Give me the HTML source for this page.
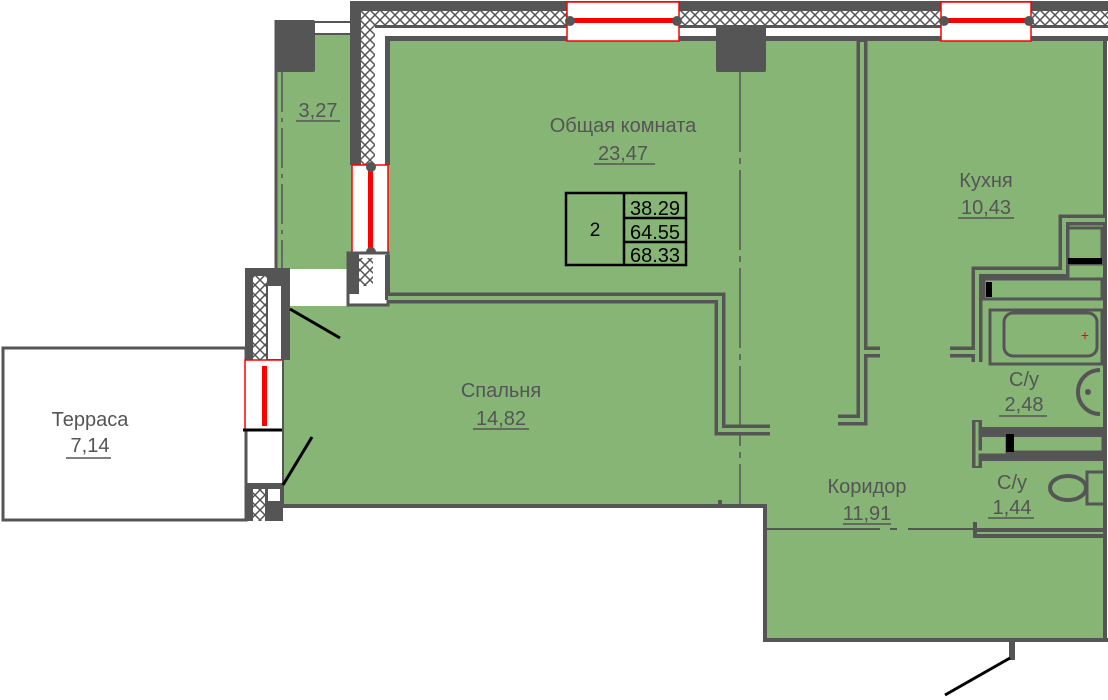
<!DOCTYPE html>
<html><head><meta charset="utf-8"><style>
html,body{margin:0;padding:0;background:#fff;width:1108px;height:700px;overflow:hidden}
svg{display:block}
text{font-family:"Liberation Sans","DejaVu Sans",sans-serif;fill:#555;font-size:20px;text-anchor:middle}
</style></head><body>
<svg width="1108" height="700" viewBox="0 0 1108 700">
<defs>
<pattern id="h" width="10" height="10" patternUnits="userSpaceOnUse">
<rect width="10" height="10" fill="#fff"/>
<path d="M0 0L10 10M10 0L0 10" stroke="#555" stroke-width="1.5"/>
</pattern>
</defs>
<rect x="277" y="33" width="77" height="236" fill="#86b576"/>
<polygon points="388,40 1105,40 1105,640 765,640 765,507 283,507 283,306 388,306" fill="#86b576"/>
<rect x="3" y="348" width="243" height="172" fill="#fff" stroke="#555" stroke-width="3"/>
<line x1="276" y1="20" x2="276" y2="268" stroke="#555" stroke-width="3"/>
<line x1="282" y1="72" x2="282" y2="268" stroke="#555" stroke-width="1.5" stroke-dasharray="40 6 4 6"/>
<rect x="276" y="22" width="80" height="12" fill="#fff" stroke="#555" stroke-width="2"/>
<rect x="275" y="20" width="40" height="52" fill="#555" rx="2"/>
<!-- top wall -->
<rect x="350" y="2" width="758" height="38" fill="#fff"/>
<rect x="375" y="11" width="733" height="15" fill="url(#h)"/>
<rect x="350" y="1" width="758" height="10" fill="#555"/>
<rect x="350" y="25" width="758" height="3" fill="#555"/>
<rect x="388" y="36" width="720" height="5" fill="#555"/>
<rect x="567" y="2" width="112" height="39" fill="#fff" stroke="#f00" stroke-width="1.5"/>
<rect x="567" y="18" width="112" height="5" fill="#f00"/>
<circle cx="570" cy="21" r="5" fill="#555"/><circle cx="677" cy="21" r="5" fill="#555"/>
<rect x="941" y="2" width="90" height="39" fill="#fff" stroke="#f00" stroke-width="1.5"/>
<rect x="941" y="18" width="90" height="5" fill="#f00"/>
<circle cx="944" cy="21" r="5" fill="#555"/><circle cx="1029" cy="21" r="5" fill="#555"/>
<rect x="716" y="25" width="50" height="47" fill="#555" rx="2"/>
<line x1="740" y1="72" x2="740" y2="505" stroke="#555" stroke-width="1.5" stroke-dasharray="80 6 6 6"/>
<!-- left wall of living -->
<rect x="361" y="11" width="14" height="154" fill="url(#h)"/>
<rect x="350" y="1" width="11" height="164" fill="#555"/>
<rect x="375" y="25" width="3" height="140" fill="#555"/>
<rect x="385" y="36" width="5" height="129" fill="#555"/>
<rect x="375" y="28" width="10" height="137" fill="#fff"/>
<rect x="352" y="165" width="36" height="90" fill="#fff" stroke="#f00" stroke-width="1.5"/>
<rect x="368" y="170" width="5" height="80" fill="#f00"/>
<circle cx="371" cy="167" r="5" fill="#555"/><circle cx="371" cy="252" r="5" fill="#555"/>
<rect x="348" y="253" width="40" height="52" fill="#fff" stroke="#555" stroke-width="3"/>
<rect x="349" y="254" width="10" height="40" fill="#555"/>
<rect x="359" y="258" width="14" height="28" fill="url(#h)"/>
<rect x="385" y="255" width="5" height="45" fill="#555"/>
<!-- bedroom top wall -->
<path d="M388 298H720V430H770" fill="none" stroke="#555" stroke-width="11"/>
<path d="M388 298H720V430H770" fill="none" stroke="#86b576" stroke-width="4"/>
<!-- left bedroom wall -->
<rect x="245" y="268" width="45" height="92" fill="#555"/>
<rect x="253" y="276" width="14" height="84" fill="url(#h)"/>
<rect x="267" y="285" width="15" height="75" fill="#fff" stroke="#555" stroke-width="2"/>
<rect x="245" y="360" width="38" height="70" fill="#fff" stroke="#f00" stroke-width="1.5"/>
<rect x="262" y="366" width="5" height="60" fill="#f00"/>
<line x1="243" y1="430" x2="284" y2="430" stroke="#000" stroke-width="3"/>
<rect x="245" y="483" width="38" height="38" fill="#555"/>
<rect x="253" y="489" width="12" height="32" fill="url(#h)"/>
<rect x="268" y="489" width="12" height="12" fill="#fff"/>
<line x1="283" y1="305" x2="283" y2="505" stroke="#555" stroke-width="2"/>
<line x1="290" y1="309" x2="340" y2="338" stroke="#000" stroke-width="3"/>
<line x1="283" y1="485" x2="312" y2="437" stroke="#000" stroke-width="3"/>
<path d="M275 506H720V500M720 506H765V640H1108" fill="none" stroke="#555" stroke-width="4"/>
<path d="M1012 640V660" stroke="#555" stroke-width="6"/>
<line x1="1010" y1="658" x2="945" y2="695" stroke="#000" stroke-width="3"/>
<line x1="1105" y1="40" x2="1105" y2="640" stroke="#555" stroke-width="4"/>
<!-- kitchen wall -->
<path d="M862 40V420H838M862 352H880" fill="none" stroke="#555" stroke-width="11"/>
<path d="M862 42V420H838M862 352H880" fill="none" stroke="#86b576" stroke-width="4"/>
<!-- bathroom -->
<path d="M1105 220H1064V272H977V362M977 352H950" fill="none" stroke="#555" stroke-width="11"/>
<path d="M1105 220H1064V272H977V362M977 352H950" fill="none" stroke="#86b576" stroke-width="4"/>
<rect x="1068" y="228" width="34" height="36" fill="none" stroke="#555" stroke-width="3"/>
<rect x="1068" y="258" width="34" height="6" fill="#000"/>
<rect x="984" y="279" width="118" height="20" fill="none" stroke="#555" stroke-width="3"/>
<rect x="986" y="282" width="6" height="15" fill="#000"/>
<rect x="990" y="310" width="112" height="54" fill="none" stroke="#555" stroke-width="3"/>
<rect x="1004" y="313" width="93" height="43" rx="9" fill="none" stroke="#555" stroke-width="3"/>
<text x="1085" y="340" style="fill:#f00;font-size:14px">+</text>
<path d="M1100 370A22 22 0 0 0 1100 414" fill="none" stroke="#555" stroke-width="4"/>
<circle cx="1088" cy="392" r="3" fill="#555"/>
<path d="M977 420V468M977 432H1105M977 456H1105" fill="none" stroke="#555" stroke-width="10"/>
<path d="M977 422V466M977 436V452H1103" fill="none" stroke="#86b576" stroke-width="3"/>
<rect x="1007" y="434" width="96" height="18" fill="none" stroke="#555" stroke-width="3"/>
<rect x="1006" y="434" width="8" height="18" fill="#000"/>
<ellipse cx="1068" cy="488" rx="18" ry="12" fill="none" stroke="#555" stroke-width="4"/>
<rect x="1087" y="472" width="18" height="32" fill="none" stroke="#555" stroke-width="3"/>
<path d="M975 522V536H1105M975 530H1105" fill="none" stroke="#555" stroke-width="4"/>
<path d="M765 529H880M890 529H897M908 529H975" stroke="#555" stroke-width="2"/>
<!-- labels -->
<text x="318" y="117">3,27</text><line x1="296" y1="121" x2="340" y2="121" stroke="#555" stroke-width="1.5"/>
<text x="623" y="132">Общая комната</text>
<text x="623" y="160">23,47</text><line x1="594" y1="164" x2="655" y2="164" stroke="#555" stroke-width="1.5"/>
<text x="986" y="187">Кухня</text>
<text x="986" y="214">10,43</text><line x1="958" y1="218" x2="1014" y2="218" stroke="#555" stroke-width="1.5"/>
<text x="501" y="397">Спальня</text>
<text x="501" y="425">14,82</text><line x1="473" y1="429" x2="529" y2="429" stroke="#555" stroke-width="1.5"/>
<text x="867" y="493">Коридор</text>
<text x="867" y="520">11,91</text><line x1="843" y1="524" x2="891" y2="524" stroke="#555" stroke-width="1.5"/>
<text x="1024" y="386">С/у</text>
<text x="1024" y="411">2,48</text><line x1="999" y1="416" x2="1047" y2="416" stroke="#555" stroke-width="1.5"/>
<text x="1012" y="489">С/у</text>
<text x="1012" y="514">1,44</text><line x1="988" y1="518" x2="1034" y2="518" stroke="#555" stroke-width="1.5"/>
<text x="90" y="426">Терраса</text>
<text x="90" y="452">7,14</text><line x1="66" y1="458" x2="111" y2="458" stroke="#555" stroke-width="1.5"/>
<rect x="566" y="193" width="120" height="72" fill="none" stroke="#000" stroke-width="2.5"/>
<line x1="624" y1="193" x2="624" y2="265" stroke="#000" stroke-width="2.5"/>
<line x1="624" y1="218" x2="686" y2="218" stroke="#000" stroke-width="2.5"/>
<line x1="624" y1="242" x2="686" y2="242" stroke="#000" stroke-width="2.5"/>
<text x="595" y="236" style="fill:#000;font-size:19px">2</text>
<text x="655" y="215" style="fill:#000;font-size:20px">38.29</text>
<text x="655" y="239" style="fill:#000;font-size:20px">64.55</text>
<text x="655" y="262" style="fill:#000;font-size:20px">68.33</text>
</svg>
</body></html>
